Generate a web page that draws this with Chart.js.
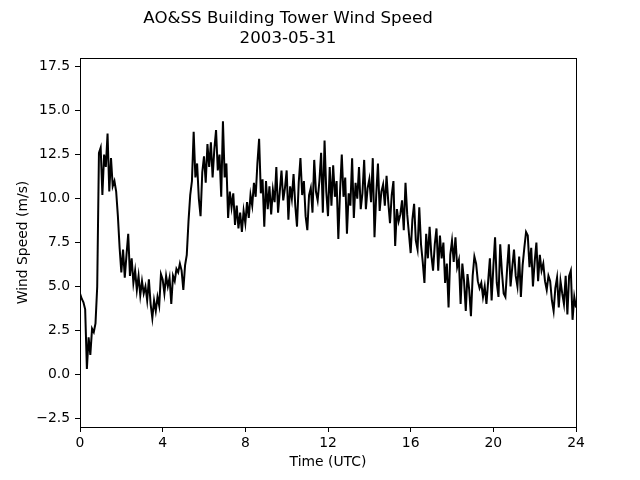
<!DOCTYPE html>
<html>
<head>
<meta charset="utf-8">
<script src="https://cdn.jsdelivr.net/npm/chart.js@4.4.1/dist/chart.umd.min.js"></script>
<style>
  html, body { margin: 0; padding: 0; background: #fff; }
  #wrap { width: 640px; height: 480px; }
</style>
</head>
<body>
<div id="wrap"><canvas id="windChart" width="640" height="480"></canvas></div>
<script>
// wind speed (m/s), one reading every 5 minutes from 00:00 to 24:00 UTC
const stepMinutes = 5;
const windSpeed = [
  4.6, 4.3, 4.1, 3.7, 0.3, 2.1, 1.1, 2.6, 2.4, 2.9, 5.0, 12.6,
  12.9, 10.2, 12.5, 11.8, 13.7, 10.4, 12.3, 10.7, 11.0, 10.4, 9.0, 7.2,
  5.8, 7.1, 5.5, 6.8, 8.0, 5.6, 6.6, 5.2, 5.9, 4.8, 5.6, 4.5,
  5.3, 4.6, 5.0, 4.2, 5.4, 4.0, 3.2, 4.2, 3.6, 4.4, 3.9, 5.7,
  5.4, 4.6, 5.6, 5.0, 5.5, 4.0, 5.6, 5.3, 6.0, 5.8, 6.3, 5.9,
  4.8, 6.2, 6.8, 8.7, 10.2, 11.0, 13.8, 11.2, 12.0, 10.0, 9.0, 11.5,
  12.4, 10.9, 13.1, 11.8, 13.2, 11.2, 12.8, 13.9, 11.6, 12.5, 10.1, 14.4,
  11.2, 12.0, 8.9, 10.4, 9.5, 10.3, 8.5, 9.6, 8.3, 9.2, 8.1, 9.3,
  8.6, 9.8, 8.9, 10.2, 9.6, 10.9, 10.1, 12.0, 13.4, 10.3, 11.1, 8.4,
  11.0, 9.4, 10.7, 9.1, 10.5, 9.8, 11.8, 9.2, 10.4, 11.6, 9.9, 10.6,
  11.6, 8.8, 10.7, 10.0, 11.4, 9.6, 8.4, 10.9, 12.3, 10.2, 11.0, 9.0,
  8.2, 10.2, 10.6, 9.2, 12.2, 10.4, 9.9, 11.0, 12.6, 9.2, 13.3, 10.4,
  9.0, 11.8, 9.6, 11.9, 10.1, 11.0, 7.7, 10.4, 12.5, 10.1, 11.2, 8.0,
  10.3, 9.6, 12.3, 8.9, 10.9, 10.0, 11.8, 9.4, 10.3, 12.2, 9.4, 10.6,
  11.1, 9.8, 12.3, 7.8, 10.2, 12.0, 9.3, 10.4, 10.8, 9.6, 11.3, 9.8,
  8.6, 10.2, 11.0, 7.3, 9.4, 8.7, 9.1, 9.9, 8.2, 10.9, 9.1, 8.0,
  6.9, 8.8, 9.7, 7.6, 7.1, 9.5, 7.4, 6.4, 5.2, 8.0, 6.6, 8.4,
  6.8, 5.9, 7.4, 8.3, 5.9, 7.9, 6.6, 7.5, 5.2, 6.3, 3.8, 6.8,
  7.6, 6.4, 7.8, 6.1, 6.5, 4.0, 6.3, 5.3, 3.6, 5.7, 4.8, 3.3,
  5.6, 6.7, 6.3, 5.3, 4.9, 5.2, 4.4, 5.0, 4.0, 5.3, 6.6, 4.2,
  6.1, 7.8, 5.2, 4.4, 7.4, 5.8, 4.6, 4.4, 6.0, 7.4, 5.0, 6.1,
  7.1, 5.6, 5.0, 6.7, 4.4, 6.2, 7.2, 8.1, 7.9, 6.1, 7.2, 5.0,
  6.4, 7.5, 5.3, 6.8, 5.9, 6.3, 5.3, 4.8, 5.6, 5.3, 4.2, 3.6,
  4.9, 5.5, 3.8, 5.3, 4.6, 4.0, 5.6, 3.4, 5.6, 5.9, 3.1, 4.4,
  3.8
];
const xTicks = [0, 4, 8, 12, 16, 20, 24];
const yTicks = [-2.5, 0, 2.5, 5, 7.5, 10, 12.5, 15, 17.5];
const titleLines = ['AO&SS Building Tower Wind Speed', '2003-05-31'];

const points = windSpeed.map((v, i) => ({ x: i * stepMinutes / 60, y: v }));

const FONT = "'DejaVu Sans', sans-serif";

// box round the plot area, like matplotlib spines
const frame = {
  id: 'frame',
  afterDraw(chart) {
    const a = chart.chartArea, c = chart.ctx;
    c.save();
    c.strokeStyle = '#000';
    c.lineWidth = 1;
    c.strokeRect(Math.round(a.left) + 0.5, Math.round(a.top) + 0.5,
                 Math.round(a.right - a.left), Math.round(a.bottom - a.top));
    c.restore();
  }
};

new Chart(document.getElementById('windChart'), {
  type: 'line',
  data: {
    datasets: [{
      data: points,
      borderColor: '#000',
      borderWidth: 2,
      pointRadius: 0,
      tension: 0,
      fill: false
    }]
  },
  options: {
    responsive: false,
    animation: false,
    layout: { padding: { left: 0, right: 64, top: 0, bottom: 0 } },
    plugins: {
      legend: { display: false },
      tooltip: { enabled: false },
      title: {
        display: true,
        text: titleLines,
        color: '#000',
        font: { family: FONT, size: 16.67, weight: 'normal', lineHeight: 1.2 },
        padding: { top: 9, bottom: 9 }
      }
    },
    scales: {
      x: {
        type: 'linear',
        min: 0,
        max: 24,
        afterBuildTicks: (s) => { s.ticks = xTicks.map(v => ({ value: v })); },
        afterFit: (s) => { s.height = 53; },
        grid: { drawOnChartArea: false, drawTicks: true, tickLength: 5, color: '#000' },
        border: { display: false },
        ticks: { color: '#000', padding: 3, maxRotation: 0, font: { family: FONT, size: 13.9 } },
        title: {
          display: true,
          text: 'Time (UTC)',
          color: '#000',
          font: { family: FONT, size: 13.9 },
          padding: { top: 0, bottom: 9 }
        }
      },
      y: {
        min: -3,
        max: 18,
        afterBuildTicks: (s) => { s.ticks = yTicks.map(v => ({ value: v })); },
        afterFit: (s) => { s.width = 80; },
        grid: { drawOnChartArea: false, drawTicks: true, tickLength: 5, color: '#000' },
        border: { display: false },
        ticks: {
          color: '#000',
          padding: 5,
          font: { family: FONT, size: 13.9 },
          callback: (v) => v.toFixed(1).replace('-', '\u2212')
        },
        title: {
          display: true,
          text: 'Wind Speed (m/s)',
          color: '#000',
          font: { family: FONT, size: 13.9 },
          padding: { top: 15, bottom: 0 }
        }
      }
    }
  },
  plugins: [frame]
});
</script>
</body>
</html>
